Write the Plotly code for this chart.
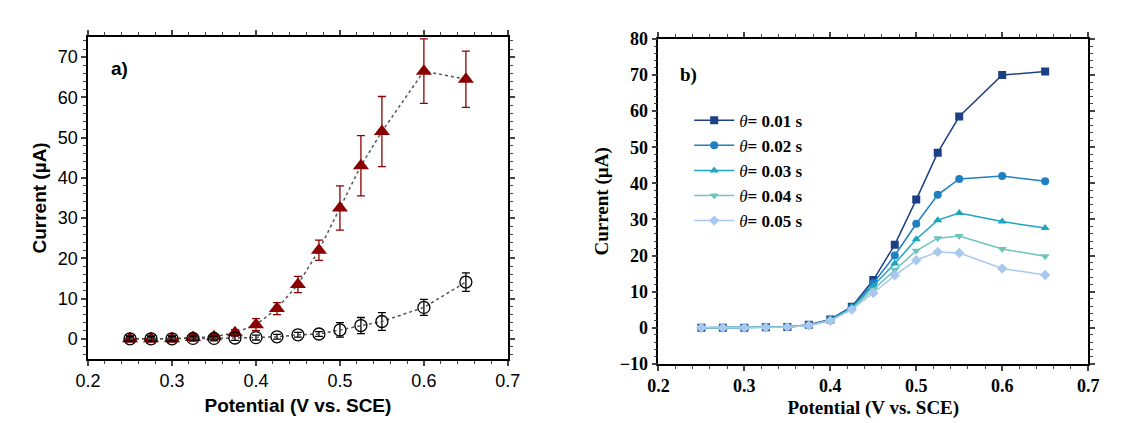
import plotly.graph_objects as go

potential = [0.25, 0.275, 0.3, 0.325, 0.35, 0.375, 0.4, 0.425, 0.45, 0.475, 0.5, 0.525, 0.55, 0.6, 0.65]

# panel a
tri_y = [0, 0, 0, 0.3, 0.5, 1.5, 3.5, 7.5, 13.5, 22, 32.5, 43, 51.5, 66.5, 64.5]
tri_err = [0.8, 0.8, 0.8, 0.8, 0.8, 0.8, 1.5, 1.5, 2, 2.5, 5.5, 7.5, 8.7, 8, 7]
circ_y = [0, 0, 0, 0.1, 0.1, 0.2, 0.3, 0.5, 1.0, 1.2, 2.2, 3.3, 4.3, 7.8, 14.1]
circ_err = [0.6, 0.6, 0.6, 0.6, 0.6, 0.6, 0.6, 0.6, 0.6, 0.6, 1.8, 2.0, 2.2, 2.0, 2.3]

# panel b
series_names = ["0.01", "0.02", "0.03", "0.04", "0.05"]
s1 = [0, 0, 0, 0.1, 0.2, 0.8, 2.3, 5.8, 13.2, 23.0, 35.5, 48.5, 58.5, 70.0, 71.0]
s2 = [0, 0, 0, 0.1, 0.2, 0.7, 2.2, 5.6, 12.3, 20.0, 28.8, 36.8, 41.2, 42.0, 40.6]
s3 = [0, 0, 0, 0.1, 0.2, 0.7, 2.1, 5.4, 11.5, 17.8, 24.5, 29.8, 31.8, 29.4, 27.6]
s4 = [0, 0, 0, 0.1, 0.2, 0.6, 2.0, 5.2, 10.5, 16.0, 21.3, 24.8, 25.4, 21.8, 19.8]
s5 = [0, 0, 0, 0.1, 0.2, 0.6, 1.9, 5.0, 9.6, 14.5, 18.7, 21.0, 20.7, 16.4, 14.6]
series = [s1, s2, s3, s4, s5]
colors = ["#1d3f85", "#1f7fc0", "#1fa5c0", "#6fc4c0", "#a9c8ee"]
symbols = ["square", "circle", "triangle-up", "triangle-down", "diamond"]

fig = go.Figure()
red = "#8b0000"
fig.add_trace(go.Scatter(x=potential, y=tri_y, mode="lines+markers", showlegend=False,
                         line=dict(color="#555", dash="dot", width=1.5),
                         marker=dict(symbol="triangle-up", size=14, color=red),
                         error_y=dict(type="data", array=tri_err, color=red, thickness=1.3, width=4),
                         xaxis="x", yaxis="y"))
fig.add_trace(go.Scatter(x=potential, y=circ_y, mode="lines+markers", showlegend=False,
                         line=dict(color="#555", dash="dot", width=1.5),
                         marker=dict(symbol="circle-open", size=12, color="black", line=dict(width=1.3)),
                         error_y=dict(type="data", array=circ_err, color="black", thickness=1.3, width=4),
                         xaxis="x", yaxis="y"))
for name, ys, c, sym in zip(series_names, series, colors, symbols):
    fig.add_trace(go.Scatter(x=potential, y=ys, mode="lines+markers", name=f"<i>θ</i><b>= {name} s</b>",
                             line=dict(color=c, width=1.5), marker=dict(symbol=sym, size=8, color=c),
                             xaxis="x2", yaxis="y2"))

ax = dict(showline=True, linecolor="black", linewidth=1.5, mirror="ticks", ticks="outside",
          ticklen=5, tickwidth=1.5, showgrid=False, zeroline=False,
          minor=dict(ticks="outside", ticklen=3, tickwidth=1))
sans = dict(family="Arial, Liberation Sans", size=19, color="black")
sans_t = dict(family="Arial, Liberation Sans", size=18, color="black")
serif = dict(family="Liberation Serif, DejaVu Serif", size=19, color="black")
serif_t = dict(family="Liberation Serif, DejaVu Serif", size=18, color="black", weight="bold")

fig.update_layout(
    width=1125, height=423, margin=dict(l=0, r=0, t=0, b=0),
    paper_bgcolor="white", plot_bgcolor="white",
    xaxis=dict(ax, domain=[0.061, 0.443], range=[0.2, 0.7], dtick=0.1, anchor="y",
               tickfont=sans_t, title=dict(text="<b>Potential (V vs. SCE)</b>", font=sans, standoff=8)),
    yaxis=dict(ax, domain=[0.154, 0.953], range=[-5, 75], dtick=10, anchor="x",
               tickfont=sans_t, title=dict(text="<b>Current (µA)</b>", font=sans, standoff=6)),
    xaxis2=dict(ax, domain=[0.580, 0.971], range=[0.2, 0.7], dtick=0.1, anchor="y2",
                tickfont=serif_t, tickformat=".1f",
                title=dict(text="<b>Potential (V vs. SCE)</b>", font=serif, standoff=6)),
    yaxis2=dict(ax, domain=[0.142, 0.948], range=[-10, 80], dtick=10, anchor="x2",
                tickfont=serif_t,
                title=dict(text="<b>Current (µA)</b>", font=serif, standoff=6)),
    legend=dict(x=0.608, y=0.79, xanchor="left", yanchor="top", bgcolor="rgba(0,0,0,0)",
                font=dict(family="Liberation Serif, DejaVu Serif", size=17, color="black"),
                tracegroupgap=0, itemwidth=40),
    annotations=[
        dict(text="<b>a)</b>", x=0.08, y=0.905, xref="paper", yref="paper", showarrow=False,
             xanchor="left", font=sans),
        dict(text="<b>b)</b>", x=0.598, y=0.89, xref="paper", yref="paper", showarrow=False,
             xanchor="left", font=serif),
    ],
)
fig.write_html("out.html")
